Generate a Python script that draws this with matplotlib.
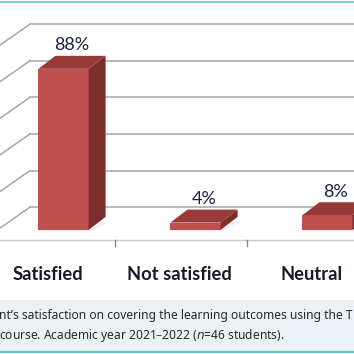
import matplotlib.pyplot as plt
from matplotlib.patches import Polygon, Rectangle

categories = ["Satisfied", "Not satisfied", "Neutral"]
values = [88, 4, 8]
grid_levels = [0, 20, 40, 60, 80, 100]
caption_lines = ["nt\u2019s satisfaction on covering the learning outcomes using the T",
                 "course. Academic year 2021\u20132022 ($\\it{n}$=46 students)."]

front = "#c0504d"
top = "#983b38"
side = "#7b2f2d"
grid = "#a6a6a6"
navy = "#1c2440"

plt.rcParams['font.family'] = ['Noto Sans', 'DejaVu Sans']

fig = plt.figure(figsize=(3.54, 3.54), dpi=100)
ax = fig.add_axes([0, 0, 1, 1])
ax.set_xlim(-0.371, 2.311)
ax.set_ylim(-62.3, 131.1)
ax.axis("off")

# fake 3d geometry (category units / percent units)
bw = 0.38        # bar width
bx = 0.11        # bar shift inside its category
base = 5.5       # bars set back into the floor
ddx, ddy = 0.129, 7.1    # bar depth
wdx, wdy = 0.356, 17.9   # wall depth

# back wall + side wall gridlines
for g in grid_levels:
    ax.plot([-0.5, -0.5 + wdx], [g, g + wdy], color=grid, lw=1.1, zorder=1)
    ax.plot([-0.5 + wdx, 3], [g + wdy, g + wdy], color=grid, lw=1.1, zorder=1)

# floor front edge + ticks
ax.plot([-0.5, 3], [0, 0], color="#c8c8c8", lw=1.0, zorder=1)
for i in range(len(categories) - 1):
    ax.plot([i + 0.5, i + 0.5], [0, -3.5], color="#888888", lw=1.0, zorder=1)

for i, (cat, v) in enumerate(zip(categories, values)):
    x0 = i + bx - bw / 2
    # soft shadow
    ax.add_patch(Polygon([(x0 - 0.02, base - 0.5), (x0 + bw + 0.02, base - 0.5),
                          (x0 + bw + ddx + 0.03, base + ddy * 0.6), (x0 + ddx, base + ddy * 0.6)],
                         closed=True, facecolor="#000000", alpha=0.05, lw=0, zorder=2))
    ax.bar(i + bx, v, width=bw, bottom=base, color=front, zorder=3)
    ax.add_patch(Polygon([(x0, base + v), (x0 + bw, base + v),
                          (x0 + bw + ddx, base + v + ddy), (x0 + ddx, base + v + ddy)],
                         closed=True, facecolor=top, lw=0, zorder=3))
    ax.add_patch(Polygon([(x0 + bw, base), (x0 + bw + ddx, base + ddy),
                          (x0 + bw + ddx, base + v + ddy), (x0 + bw, base + v)],
                         closed=True, facecolor=side, lw=0, zorder=3))
    ax.text(i + bx + ddx / 2, base + v + ddy + 1.5, f"{v}%", ha="center", va="bottom",
            fontsize=13, color=navy, family=["Lato", "DejaVu Sans"], zorder=4)
    ax.text(i - 0.01, -19, cat, ha="center", va="center", fontsize=13.2, fontweight="bold",
            color="#141a2a", family=["Lato", "DejaVu Sans"], zorder=4)

# caption box
ax.add_patch(Rectangle((0, 0.006), 1, 0.147, transform=ax.transAxes,
                       facecolor="#eaf2f5", lw=0, zorder=0))
ax.plot([0, 1], [0.006, 0.006], transform=ax.transAxes, color="#5fc3d9", lw=1.6, zorder=1)
ax.plot([0, 1], [0.994, 0.994], transform=ax.transAxes, color="#5fc3d9", lw=1.2, zorder=1)
ax.text(-0.004, 1 - 316 / 354, caption_lines[0], transform=ax.transAxes, ha="left",
        va="center", fontsize=8.65, color="#2a2a2a")
ax.text(-0.004, 1 - 336 / 354, caption_lines[1], transform=ax.transAxes, ha="left",
        va="center", fontsize=8.65, color="#2a2a2a")

fig.savefig("out.png", dpi=100)
